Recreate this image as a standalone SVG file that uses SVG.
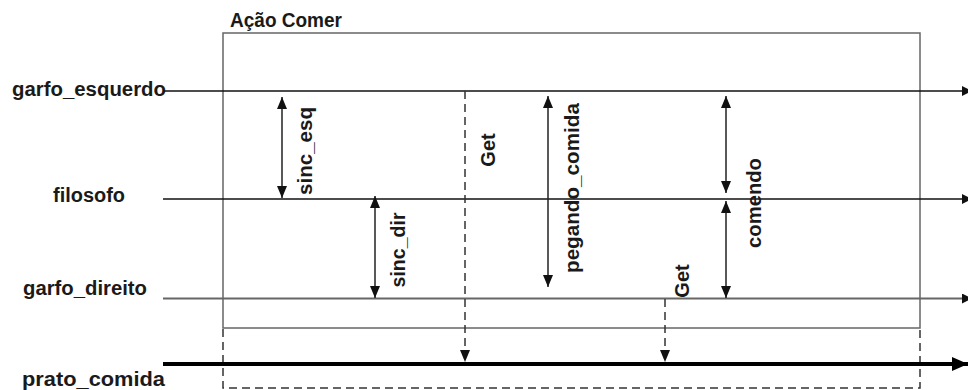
<svg xmlns="http://www.w3.org/2000/svg" width="968" height="390" viewBox="0 0 968 390">
<style>
text{font-family:"Liberation Sans",Arial,sans-serif;font-weight:bold;font-size:20px;fill:#1a1a1a}
.lane{stroke:#111;stroke-width:1.5;fill:none}
.box{stroke:#666;stroke-width:1.5;fill:none}
.dash{stroke:#333;stroke-width:1.5;fill:none;stroke-dasharray:8 5}
.dbl{stroke:#222;stroke-width:1.5;fill:none}
</style>
<defs>
<marker id="ah" markerUnits="userSpaceOnUse" markerWidth="12" markerHeight="12" viewBox="0 0 12 12" refX="12" refY="6" orient="auto-start-reverse">
<path d="M0,1 L12,6 L0,11 Z" fill="#111"/>
</marker>
<marker id="lh" markerUnits="userSpaceOnUse" markerWidth="10" markerHeight="10" viewBox="0 0 10 10" refX="10" refY="5" orient="auto">
<path d="M0,0 L10,5 L0,10 Z" fill="#111"/>
</marker>
<marker id="bh" markerUnits="userSpaceOnUse" markerWidth="16" markerHeight="16" viewBox="0 0 16 16" refX="16" refY="8" orient="auto">
<path d="M0,1 L16,8 L0,15 Z" fill="#000"/>
</marker>
</defs>
<g id="acao_comer">
<rect class="box" x="223" y="33" width="697" height="295"/>
<path class="dash" d="M223,329 V388 H920 V329"/>
<text x="230" y="27" textLength="112" lengthAdjust="spacingAndGlyphs">Ação Comer</text>
</g>
<g id="garfo_esquerdo">
<text x="12" y="96" textLength="154" lengthAdjust="spacingAndGlyphs">garfo_esquerdo</text>
</g>
<g id="filosofo">
<text x="53" y="202" textLength="72" lengthAdjust="spacingAndGlyphs">filosofo</text>
</g>
<g id="garfo_direito">
<text x="23" y="295" textLength="124" lengthAdjust="spacingAndGlyphs">garfo_direito</text>
</g>
<g id="prato_comida">
<text x="22" y="386" textLength="143" lengthAdjust="spacingAndGlyphs">prato_comida</text>
</g>
<g id="connectors">
<line class="lane" x1="163" y1="91" x2="972" y2="91" marker-end="url(#lh)"/>
<line class="lane" x1="163" y1="199" x2="972" y2="199" stroke="#222" marker-end="url(#lh)"/>
<line class="lane" x1="163" y1="298.5" x2="972" y2="298.5" style="stroke:#666;stroke-width:2" marker-end="url(#lh)"/>
<line x1="163" y1="364" x2="968" y2="364" stroke="#000" stroke-width="4" marker-end="url(#bh)"/>
<line class="dbl" x1="282" y1="97" x2="282" y2="198" marker-start="url(#ah)" marker-end="url(#ah)"/>
<line class="dbl" x1="375" y1="196" x2="375" y2="298" marker-start="url(#ah)" marker-end="url(#ah)"/>
<line class="dbl" x1="548" y1="96" x2="548" y2="287" marker-start="url(#ah)" marker-end="url(#ah)"/>
<line class="dbl" x1="726" y1="96" x2="726" y2="193" marker-start="url(#ah)" marker-end="url(#ah)"/>
<line class="dbl" x1="726" y1="201" x2="726" y2="298" marker-start="url(#ah)" marker-end="url(#ah)"/>
<line class="dash" x1="465" y1="91" x2="465" y2="362" marker-end="url(#ah)"/>
<line class="dash" x1="665" y1="299" x2="665" y2="362" marker-end="url(#ah)"/>
<text transform="translate(312,151) rotate(-90)" text-anchor="middle" textLength="88" lengthAdjust="spacingAndGlyphs">sinc_esq</text>
<text transform="translate(405,250) rotate(-90)" text-anchor="middle" textLength="75" lengthAdjust="spacingAndGlyphs">sinc_dir</text>
<text transform="translate(495,150) rotate(-90)" text-anchor="middle">Get</text>
<text transform="translate(579,188) rotate(-90)" text-anchor="middle" textLength="170" lengthAdjust="spacingAndGlyphs">pegando_comida</text>
<text transform="translate(761,203) rotate(-90)" text-anchor="middle" textLength="90" lengthAdjust="spacingAndGlyphs">comendo</text>
<text transform="translate(689,281) rotate(-90)" text-anchor="middle">Get</text>
</g>
</svg>
